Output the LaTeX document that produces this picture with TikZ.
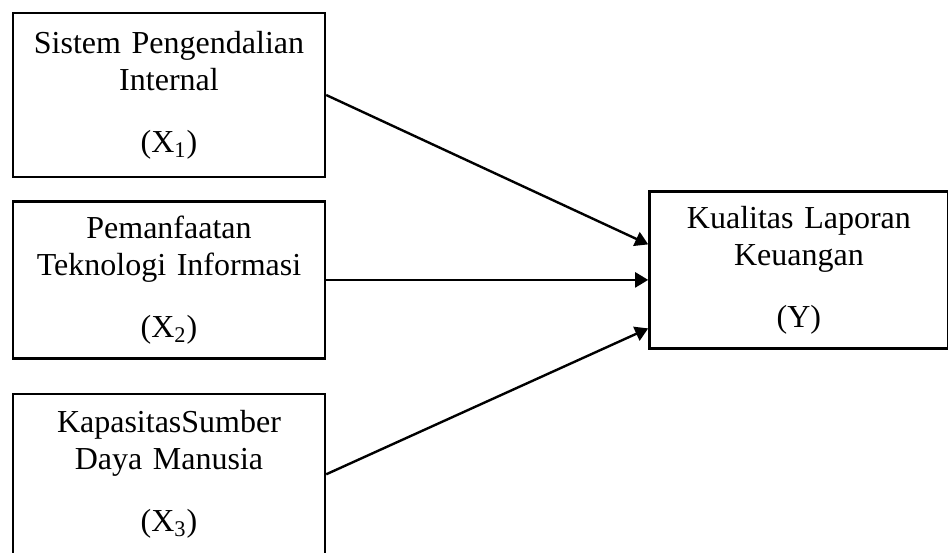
\documentclass[tikz,border=0pt]{standalone}
\usepackage{fontspec}
\setmainfont{Liberation Serif}
\usetikzlibrary{calc}
\usetikzlibrary{positioning}
\usetikzlibrary{arrows.meta}

\begin{document}
\begin{tikzpicture}
\fontsize{16pt}{18.5pt}\selectfont

\tikzset{every node/.style={line width=1.2pt, draw=black, align=center, text width=140pt, minimum width=156pt}}

\useasboundingbox (-84.5pt,47.5pt) rectangle (389.5pt,-228.5pt);

\node[minimum height=82pt] (sistem) {Sistem Pengendalian \\ Internal \\[12.5pt] (X\textsubscript{1})};

\node[below=11pt of sistem, minimum height=78.5pt] (teknologi) {Pemanfaatan \\ Teknologi Informasi \\[12.5pt] (X\textsubscript{2})};
\node[below=16.5pt of teknologi, minimum height=80.5pt] (sdm) {KapasitasSumber \\ Daya Manusia \\[12.5pt] (X\textsubscript{3})};

\node[right=161pt of teknologi, yshift=5pt, minimum height=78.5pt, text width=135pt, minimum width=149.5pt] (kualitas) {Kualitas Laporan \\ Keuangan \\[12.5pt] (Y)};

\coordinate (masuk1) at ($(kualitas.west)+(0,12.75pt)$);
\coordinate (masuk2) at (teknologi.east -| kualitas.west);
\coordinate (masuk3) at ($(kualitas.west)+(0,-29.25pt)$);

\draw[line width=1.2pt, -{Triangle[length=6.5pt,width=7.5pt]}]
	(sistem.east) -- (masuk1);
\draw[line width=1.2pt, -{Triangle[length=6.5pt,width=7.5pt]}]
	(teknologi.east) -- (masuk2);
\draw[line width=1.2pt, -{Triangle[length=6.5pt,width=7.5pt]}]
	(sdm.east) -- (masuk3);
\end{tikzpicture}
\end{document}
